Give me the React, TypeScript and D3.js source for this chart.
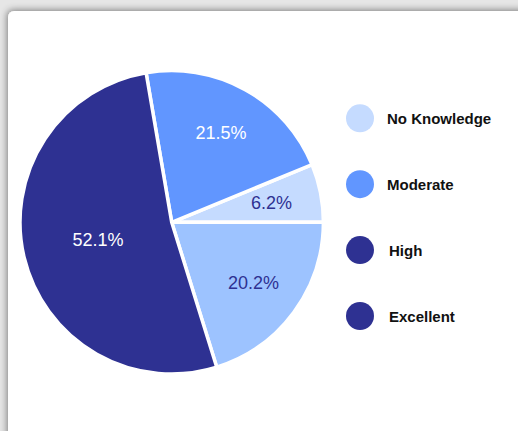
import React from "react";
import * as d3 from "d3";

// chart data
const categories = ["No Knowledge", "Moderate", "High", "Excellent"];
const shares = [6.2, 21.5, 20.2, 52.1];
const sliceColors = ["#c5dbff", "#6196ff", "#9dc3ff", "#2e3192"];
const labelColors = ["#2e3192", "#ffffff", "#2e3192", "#ffffff"];
const legendColors = ["#c5dbff", "#6196ff", "#2e3192", "#2e3192"];
// order slices are drawn counter-clockwise from 3 o'clock
const drawOrder = ["No Knowledge", "Moderate", "Excellent", "High"];

const W = 518;
const H = 431;

const App = () => {
  const cx = 171.7;
  const cy = 222.3;
  const radius = 151.7;

  const data = categories.map((c, i) => ({
    label: c,
    value: shares[i],
    color: sliceColors[i],
    text: labelColors[i],
  }));

  const pie = d3
    .pie<any>()
    .value((d) => d.value)
    .sort((a, b) => drawOrder.indexOf(a.label) - drawOrder.indexOf(b.label))
    .startAngle(Math.PI / 2)
    .endAngle(Math.PI / 2 - 2 * Math.PI);

  const arcs = pie(data);
  const arc = d3.arc<any>().innerRadius(0).outerRadius(radius);

  // place labels around 2/3 of the radius, big slices at the centroid
  const labelPos = (a: any) => {
    const span = Math.abs(a.endAngle - a.startAngle);
    const r = span > Math.PI ? radius * 0.5 : radius * 0.67;
    const mid = (a.startAngle + a.endAngle) / 2;
    return [Math.sin(mid) * r, -Math.cos(mid) * r];
  };

  const legendY = d3
    .scalePoint()
    .domain(categories)
    .range([118.3, 316])
    .padding(0);

  return (
    <svg
      width={W}
      height={H}
      style={{ position: "absolute", left: 0, top: 0, display: "block" }}
      fontFamily="'Liberation Sans', Arial, Helvetica, sans-serif"
    >
      <defs>
        <filter id="shadow" x="-5%" y="-5%" width="110%" height="110%">
          <feDropShadow dx="-1" dy="-1" stdDeviation="3.5" floodColor="#000" floodOpacity="0.45" />
        </filter>
      </defs>
      <rect x={0} y={0} width={W} height={H} fill="#e6e6e6" />
      <rect x={8} y={11} width={W + 20} height={H + 20} rx={6} fill="#ffffff" filter="url(#shadow)" />

      <g transform={`translate(${cx},${cy})`}>
        {arcs.map((a, i) => (
          <path key={i} d={arc(a) as string} fill={a.data.color} stroke="#ffffff" strokeWidth={3.5} strokeLinejoin="round" />
        ))}
        {arcs.map((a, i) => {
          const [x, y] = labelPos(a);
          return (
            <text
              key={"l" + i}
              x={x}
              y={y}
              textAnchor="middle"
              dominantBaseline="central"
              fontSize={18}
              fill={a.data.text}
            >
              {a.data.value.toFixed(1) + "%"}
            </text>
          );
        })}
      </g>

      <g>
        {categories.map((c, i) => (
          <g key={c} transform={`translate(360,${legendY(c)})`}>
            <circle r={14} fill={legendColors[i]} />
            <text
              x={i >= 2 ? 29 : 27}
              y={0}
              dominantBaseline="central"
              fontSize={15}
              fontWeight="bold"
              fill="#111111"
            >
              {c}
            </text>
          </g>
        ))}
      </g>
    </svg>
  );
};

export default App;
